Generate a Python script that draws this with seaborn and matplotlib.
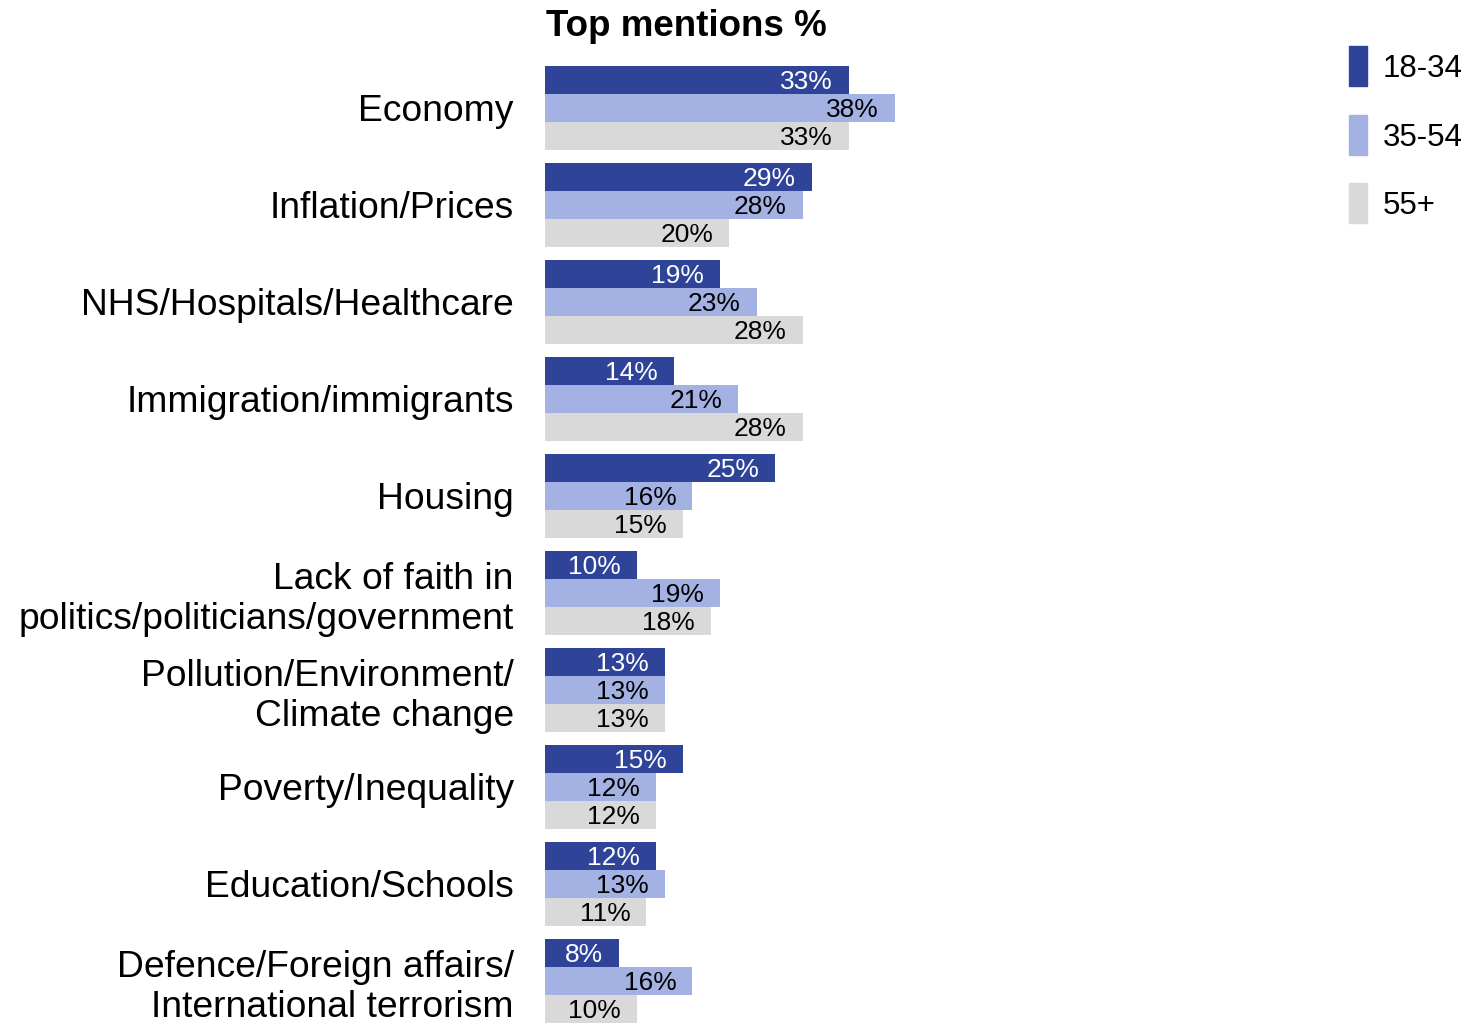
import pandas as pd
import seaborn as sns
import matplotlib.pyplot as plt
from matplotlib.patches import Rectangle

# Data
categories = ['Economy', 'Inflation/Prices', 'NHS/Hospitals/Healthcare',
              'Immigration/immigrants', 'Housing',
              'Lack of faith in\npolitics/politicians/government',
              'Pollution/Environment/\nClimate change', 'Poverty/Inequality',
              'Education/Schools', 'Defence/Foreign affairs/\nInternational terrorism']
age_groups = ['18-34', '35-54', '55+']
vals_18_34 = [33, 29, 19, 14, 25, 10, 13, 15, 12, 8]
vals_35_54 = [38, 28, 23, 21, 16, 19, 13, 12, 13, 16]
vals_55 = [33, 20, 28, 28, 15, 18, 13, 12, 11, 10]
colors = ['#2F4499', '#A3B1E3', '#D9D9D9']
label_colors = ['white', 'black', 'black']

rows = []
for grp, vals in zip(age_groups, [vals_18_34, vals_35_54, vals_55]):
    for cat, v in zip(categories, vals):
        rows.append({'topic': cat, 'age': grp, 'pct': v})
df = pd.DataFrame(rows)

sns.set_style('white')
plt.rcParams['font.family'] = ['Liberation Sans', 'DejaVu Sans']
plt.rcParams['text.color'] = 'black'
plt.rcParams['ytick.color'] = 'black'

W, H = 1478, 1024
fig = plt.figure(figsize=(W / 100, H / 100), dpi=100)
# axes placed in pixel terms: left 545, top 60, bottom at figure edge
ax_left, ax_top, ax_right = 545, 60, 1330
ax = fig.add_axes([ax_left / W, 0, (ax_right - ax_left) / W, 1 - ax_top / H])

sns.barplot(data=df, x='pct', y='topic', hue='age', order=categories,
            hue_order=age_groups, palette=colors, orient='h', width=0.866,
            errorbar=None, legend=False, saturation=1, linewidth=0, ax=ax)

ax.set_xlim(0, (ax_right - ax_left) / 9.21)
ax.set_ylim(9.445, -0.49)
for spine in ax.spines.values():
    spine.set_visible(False)
ax.set_xticks([])
ax.set_xlabel('')
ax.set_ylabel('')
ax.tick_params(axis='y', length=0, pad=22.5, labelsize=26.8, labelcolor='black')
for t in ax.get_yticklabels():
    t.set_linespacing(1.2)

for cont, col in zip(ax.containers, label_colors):
    texts = ax.bar_label(cont, labels=[f'{int(v)}%' for v in cont.datavalues],
                         padding=-11.5, fontsize=19, color=col)
    for t in texts:
        t.set_ha('right')
        t.xyann = (-11.5, -1.5)

fig.text(546 / W, 1 - 26 / H, 'Top mentions %', fontsize=26.5, fontweight='bold',
         ha='left', va='center')

# legend drawn as colour swatches with labels
for i, (grp, col) in enumerate(zip(age_groups, colors)):
    yc = 66 + 68.5 * i
    fig.patches.append(Rectangle((1349 / W, 1 - (yc + 20) / H), 18 / W, 40 / H,
                                 transform=fig.transFigure, color=col))
    fig.text(1383 / W, 1 - (yc + 3) / H, grp, fontsize=22.5, ha='left', va='center')

fig.savefig('out.png', dpi=100)
